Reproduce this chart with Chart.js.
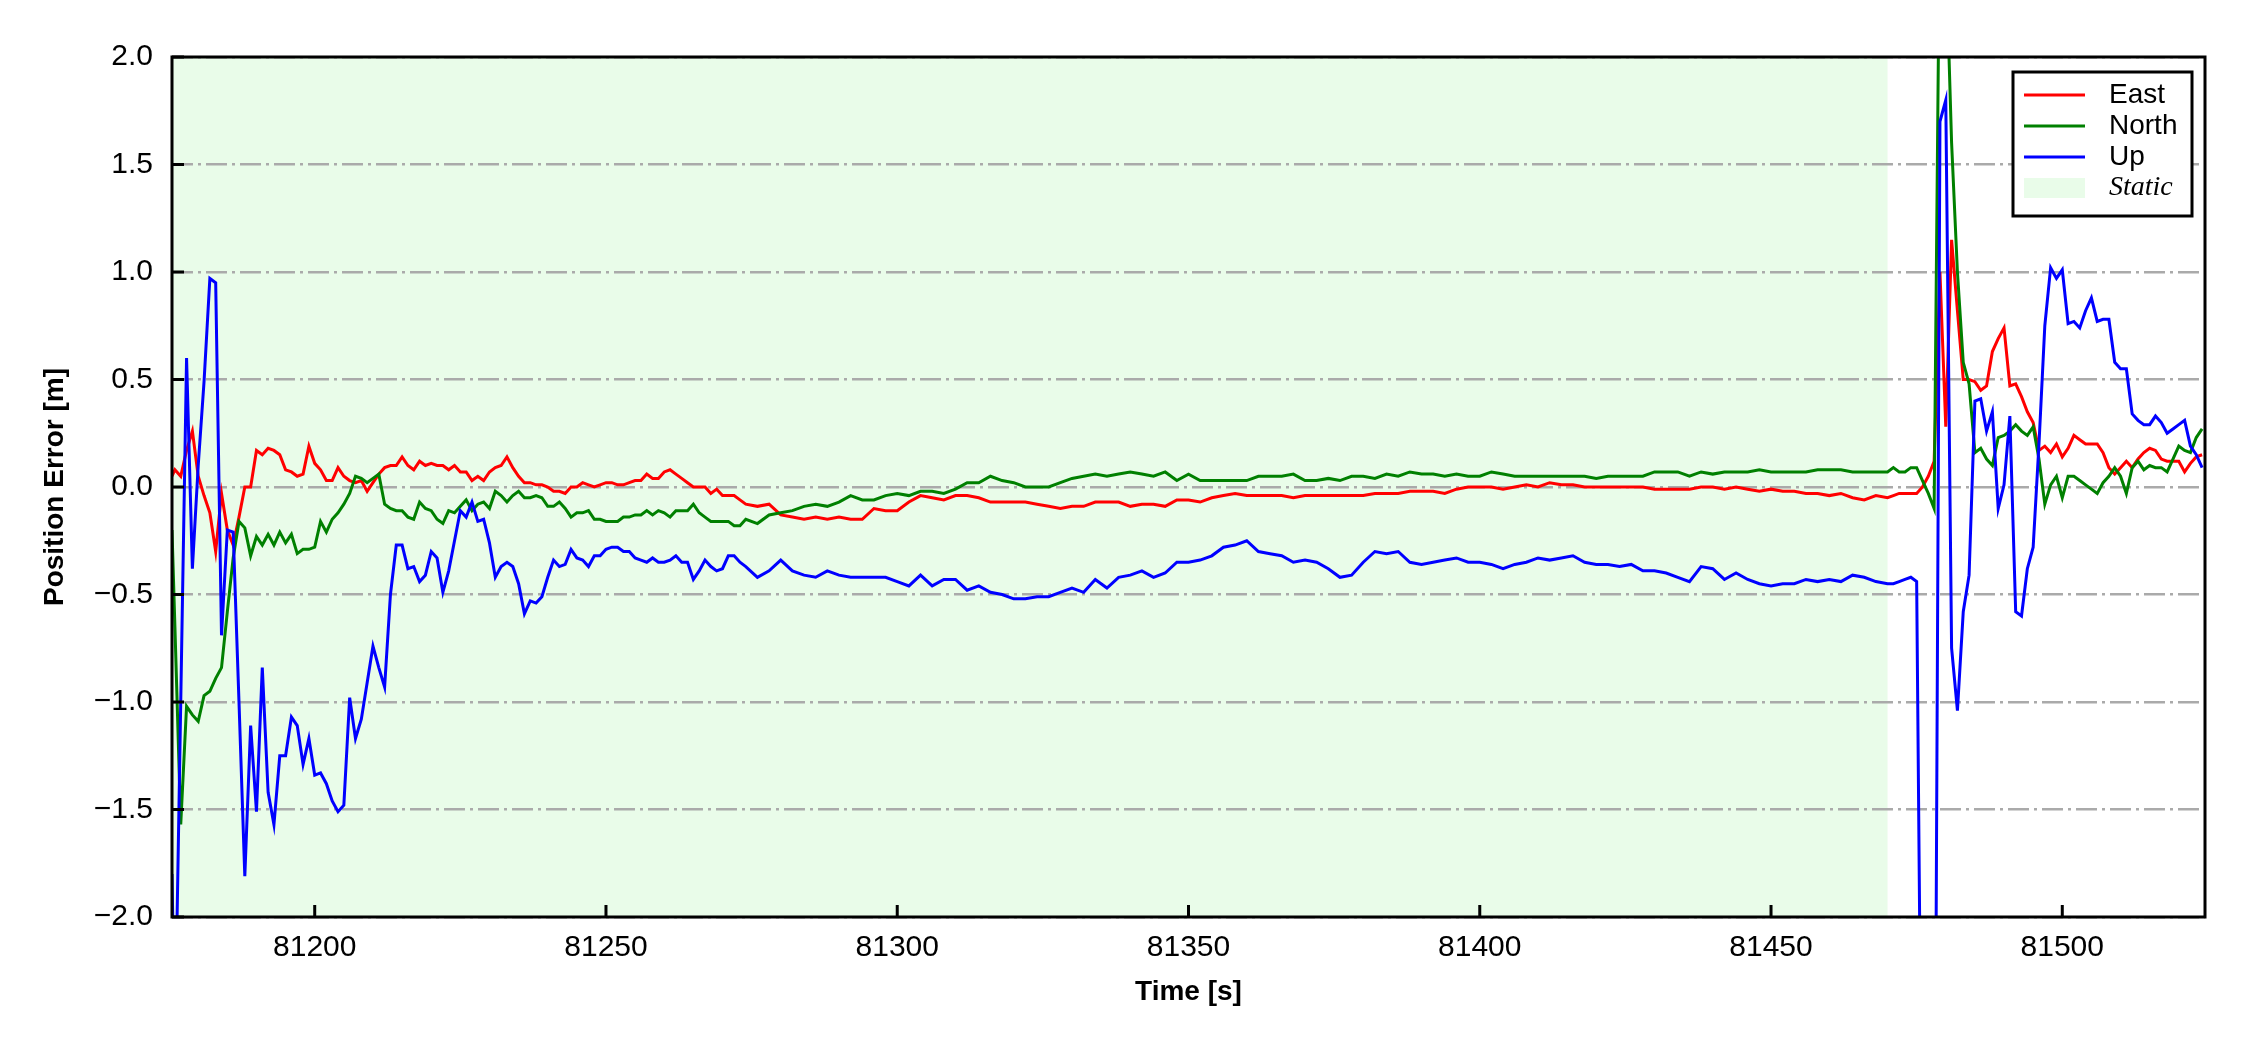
<!DOCTYPE html>
<html>
<head>
<meta charset="utf-8">
<script src="https://cdn.jsdelivr.net/npm/chart.js@4.4.1/dist/chart.umd.min.js"></script>
<style>
  html, body { margin: 0; padding: 0; background: #fff; }
  #wrap { width: 2250px; height: 1050px; }
</style>
</head>
<body>
<div id="wrap"><canvas id="errChart" width="2250" height="1050"></canvas></div>
<script>
// time stamps [s]: 1 s steps at the start and the end, 2 s steps in the quiet middle part
const times = [
  81175.5, 81176, 81177, 81178, 81179, 81180, 81181, 81182, 81183, 81184,
  81185, 81186, 81187, 81188, 81189, 81190, 81191, 81192, 81193, 81194,
  81195, 81196, 81197, 81198, 81199, 81200, 81201, 81202, 81203, 81204,
  81205, 81206, 81207, 81208, 81209, 81210, 81211, 81212, 81213, 81214,
  81215, 81216, 81217, 81218, 81219, 81220, 81221, 81222, 81223, 81224,
  81225, 81226, 81227, 81228, 81229, 81230, 81231, 81232, 81233, 81234,
  81235, 81236, 81237, 81238, 81239, 81240, 81241, 81242, 81243, 81244,
  81245, 81246, 81247, 81248, 81249, 81250, 81251, 81252, 81253, 81254,
  81255, 81256, 81257, 81258, 81259, 81260, 81261, 81262, 81263, 81264,
  81265, 81266, 81267, 81268, 81269, 81270, 81271, 81272, 81273, 81274,
  81276, 81278, 81280, 81282, 81284, 81286, 81288, 81290, 81292, 81294,
  81296, 81298, 81300, 81302, 81304, 81306, 81308, 81310, 81312, 81314,
  81316, 81318, 81320, 81322, 81324, 81326, 81328, 81330, 81332, 81334,
  81336, 81338, 81340, 81342, 81344, 81346, 81348, 81350, 81352, 81354,
  81356, 81358, 81360, 81362, 81364, 81366, 81368, 81370, 81372, 81374,
  81376, 81378, 81380, 81382, 81384, 81386, 81388, 81390, 81392, 81394,
  81396, 81398, 81400, 81402, 81404, 81406, 81408, 81410, 81412, 81414,
  81416, 81418, 81420, 81422, 81424, 81426, 81428, 81430, 81432, 81434,
  81436, 81438, 81440, 81442, 81444, 81446, 81448, 81450, 81452, 81454,
  81456, 81458, 81460, 81462, 81464, 81466, 81468, 81470,
  81471, 81472, 81473, 81474, 81475, 81476, 81477, 81478, 81479, 81480,
  81481, 81482, 81483, 81484, 81485, 81486, 81487, 81488, 81489, 81490,
  81491, 81492, 81493, 81494, 81495, 81496, 81497, 81498, 81499, 81500,
  81501, 81502, 81503, 81504, 81505, 81506, 81507, 81508, 81509, 81510,
  81511, 81512, 81513, 81514, 81515, 81516, 81517, 81518, 81519, 81520,
  81521, 81522, 81523, 81524
];

const east = [
  0.05, 0.08, 0.05, 0.17, 0.26, 0.05, -0.04, -0.12, -0.30, -0.03,
  -0.20, -0.27, -0.14, 0.00, 0.00, 0.17, 0.15, 0.18, 0.17, 0.15,
  0.08, 0.07, 0.05, 0.06, 0.19, 0.11, 0.08, 0.03, 0.03, 0.09,
  0.05, 0.03, 0.02, 0.03, -0.02, 0.02, 0.06, 0.09, 0.10, 0.10,
  0.14, 0.10, 0.08, 0.12, 0.10, 0.11, 0.10, 0.10, 0.08, 0.10,
  0.07, 0.07, 0.03, 0.05, 0.03, 0.07, 0.09, 0.10, 0.14, 0.09,
  0.05, 0.02, 0.02, 0.01, 0.01, 0.00, -0.02, -0.02, -0.03, 0.00,
  0.00, 0.02, 0.01, 0.00, 0.01, 0.02, 0.02, 0.01, 0.01, 0.02,
  0.03, 0.03, 0.06, 0.04, 0.04, 0.07, 0.08, 0.06, 0.04, 0.02,
  0.00, 0.00, 0.00, -0.03, -0.01, -0.04, -0.04, -0.04, -0.06, -0.08,
  -0.09, -0.08, -0.13, -0.14, -0.15, -0.14, -0.15, -0.14, -0.15, -0.15,
  -0.10, -0.11, -0.11, -0.07, -0.04, -0.05, -0.06, -0.04, -0.04, -0.05,
  -0.07, -0.07, -0.07, -0.07, -0.08, -0.09, -0.10, -0.09, -0.09, -0.07,
  -0.07, -0.07, -0.09, -0.08, -0.08, -0.09, -0.06, -0.06, -0.07, -0.05,
  -0.04, -0.03, -0.04, -0.04, -0.04, -0.04, -0.05, -0.04, -0.04, -0.04,
  -0.04, -0.04, -0.04, -0.03, -0.03, -0.03, -0.02, -0.02, -0.02, -0.03,
  -0.01, 0.00, 0.00, 0.00, -0.01, 0.00, 0.01, 0.00, 0.02, 0.01,
  0.01, 0.00, 0.00, 0.00, 0.00, 0.00, 0.00, -0.01, -0.01, -0.01,
  -0.01, 0.00, 0.00, -0.01, 0.00, -0.01, -0.02, -0.01, -0.02, -0.02,
  -0.03, -0.03, -0.04, -0.03, -0.05, -0.06, -0.04, -0.05,
  -0.04, -0.03, -0.03, -0.03, -0.03, 0.00, 0.05, 0.12, 1.00, 0.28,
  1.15, 0.82, 0.50, 0.50, 0.49, 0.45, 0.47, 0.63, 0.69, 0.74,
  0.47, 0.48, 0.42, 0.35, 0.30, 0.17, 0.19, 0.16, 0.20, 0.14,
  0.18, 0.24, 0.22, 0.20, 0.20, 0.20, 0.16, 0.09, 0.06, 0.09,
  0.12, 0.09, 0.13, 0.16, 0.18, 0.17, 0.13, 0.12, 0.12, 0.12,
  0.07, 0.11, 0.14, 0.15
];

const north = [
  -0.20, -0.65, -1.57, -1.02, -1.06, -1.09, -0.97, -0.95, -0.89, -0.84,
  -0.58, -0.33, -0.16, -0.19, -0.32, -0.23, -0.27, -0.22, -0.27, -0.21,
  -0.26, -0.22, -0.31, -0.29, -0.29, -0.28, -0.16, -0.21, -0.15, -0.12,
  -0.08, -0.03, 0.05, 0.04, 0.02, 0.04, 0.06, -0.08, -0.10, -0.11,
  -0.11, -0.14, -0.15, -0.07, -0.10, -0.11, -0.15, -0.17, -0.11, -0.12,
  -0.09, -0.06, -0.11, -0.08, -0.07, -0.10, -0.02, -0.04, -0.07, -0.04,
  -0.02, -0.05, -0.05, -0.04, -0.05, -0.09, -0.09, -0.07, -0.10, -0.14,
  -0.12, -0.12, -0.11, -0.15, -0.15, -0.16, -0.16, -0.16, -0.14, -0.14,
  -0.13, -0.13, -0.11, -0.13, -0.11, -0.12, -0.14, -0.11, -0.11, -0.11,
  -0.08, -0.12, -0.14, -0.16, -0.16, -0.16, -0.16, -0.18, -0.18, -0.15,
  -0.17, -0.13, -0.12, -0.11, -0.09, -0.08, -0.09, -0.07, -0.04, -0.06,
  -0.06, -0.04, -0.03, -0.04, -0.02, -0.02, -0.03, -0.01, 0.02, 0.02,
  0.05, 0.03, 0.02, 0.00, 0.00, 0.00, 0.02, 0.04, 0.05, 0.06,
  0.05, 0.06, 0.07, 0.06, 0.05, 0.07, 0.03, 0.06, 0.03, 0.03,
  0.03, 0.03, 0.03, 0.05, 0.05, 0.05, 0.06, 0.03, 0.03, 0.04,
  0.03, 0.05, 0.05, 0.04, 0.06, 0.05, 0.07, 0.06, 0.06, 0.05,
  0.06, 0.05, 0.05, 0.07, 0.06, 0.05, 0.05, 0.05, 0.05, 0.05,
  0.05, 0.05, 0.04, 0.05, 0.05, 0.05, 0.05, 0.07, 0.07, 0.07,
  0.05, 0.07, 0.06, 0.07, 0.07, 0.07, 0.08, 0.07, 0.07, 0.07,
  0.07, 0.08, 0.08, 0.08, 0.07, 0.07, 0.07, 0.07,
  0.09, 0.07, 0.07, 0.09, 0.09, 0.03, -0.03, -0.10, 2.80, 2.50,
  1.60, 1.00, 0.58, 0.48, 0.16, 0.18, 0.13, 0.10, 0.23, 0.24,
  0.26, 0.29, 0.26, 0.24, 0.28, 0.13, -0.08, 0.01, 0.05, -0.05,
  0.05, 0.05, 0.03, 0.01, -0.01, -0.03, 0.02, 0.05, 0.09, 0.05,
  -0.03, 0.09, 0.12, 0.08, 0.10, 0.09, 0.09, 0.07, 0.13, 0.19,
  0.17, 0.16, 0.23, 0.27
];

const up = [
  -1.80, -2.60, -1.00, 0.60, -0.38, 0.10, 0.49, 0.97, 0.95, -0.69,
  -0.20, -0.21, -1.00, -1.81, -1.11, -1.51, -0.84, -1.42, -1.57, -1.25,
  -1.25, -1.07, -1.11, -1.29, -1.17, -1.34, -1.33, -1.38, -1.46, -1.51,
  -1.48, -0.98, -1.17, -1.08, -0.91, -0.74, -0.84, -0.93, -0.50, -0.27,
  -0.27, -0.38, -0.37, -0.44, -0.41, -0.30, -0.33, -0.49, -0.39, -0.25,
  -0.11, -0.14, -0.07, -0.16, -0.15, -0.26, -0.42, -0.37, -0.35, -0.37,
  -0.45, -0.59, -0.53, -0.54, -0.51, -0.42, -0.34, -0.37, -0.36, -0.29,
  -0.33, -0.34, -0.37, -0.32, -0.32, -0.29, -0.28, -0.28, -0.30, -0.30,
  -0.33, -0.34, -0.35, -0.33, -0.35, -0.35, -0.34, -0.32, -0.35, -0.35,
  -0.43, -0.39, -0.34, -0.37, -0.39, -0.38, -0.32, -0.32, -0.35, -0.37,
  -0.42, -0.39, -0.34, -0.39, -0.41, -0.42, -0.39, -0.41, -0.42, -0.42,
  -0.42, -0.42, -0.44, -0.46, -0.41, -0.46, -0.43, -0.43, -0.48, -0.46,
  -0.49, -0.50, -0.52, -0.52, -0.51, -0.51, -0.49, -0.47, -0.49, -0.43,
  -0.47, -0.42, -0.41, -0.39, -0.42, -0.40, -0.35, -0.35, -0.34, -0.32,
  -0.28, -0.27, -0.25, -0.30, -0.31, -0.32, -0.35, -0.34, -0.35, -0.38,
  -0.42, -0.41, -0.35, -0.30, -0.31, -0.30, -0.35, -0.36, -0.35, -0.34,
  -0.33, -0.35, -0.35, -0.36, -0.38, -0.36, -0.35, -0.33, -0.34, -0.33,
  -0.32, -0.35, -0.36, -0.36, -0.37, -0.36, -0.39, -0.39, -0.40, -0.42,
  -0.44, -0.37, -0.38, -0.43, -0.40, -0.43, -0.45, -0.46, -0.45, -0.45,
  -0.43, -0.44, -0.43, -0.44, -0.41, -0.42, -0.44, -0.45,
  -0.45, -0.44, -0.43, -0.42, -0.44, -3.50, -2.80, -4.00, 1.70, 1.80,
  -0.75, -1.04, -0.58, -0.41, 0.40, 0.41, 0.26, 0.35, -0.10, 0.01,
  0.33, -0.58, -0.60, -0.38, -0.28, 0.20, 0.75, 1.02, 0.97, 1.01,
  0.76, 0.77, 0.74, 0.82, 0.88, 0.77, 0.78, 0.78, 0.58, 0.55,
  0.55, 0.34, 0.31, 0.29, 0.29, 0.33, 0.30, 0.25, 0.27, 0.29,
  0.31, 0.19, 0.15, 0.09
];

const seriesNames = ["East", "North", "Up"];
const seriesColors = ["#ff0000", "#008000", "#0000ff"];
const staticWindow = [81175.5, 81470];
const staticColor = "#e9fce9";
const xLimits = [81175.5, 81524.5];
const yLimits = [-2, 2];
const xTickValues = [81200, 81250, 81300, 81350, 81400, 81450, 81500];

const sansFont = "'Liberation Sans', Arial, Helvetica, sans-serif";

function toPoints(vals) {
  return times.map((t, i) => ({ x: t, y: vals[i] }));
}

function fmtY(v) {
  const s = Math.abs(v).toFixed(1);
  return v < 0 ? "\u2212" + s : s;
}

// shaded window under the grid, inward ticks, frame and legend on top
const decor = {
  id: "decor",
  beforeDraw(chart) {
    const { ctx, chartArea: a, scales } = chart;
    ctx.save();
    ctx.fillStyle = "#fff";
    ctx.fillRect(0, 0, chart.width, chart.height);
    const x0 = scales.x.getPixelForValue(staticWindow[0]);
    const x1 = scales.x.getPixelForValue(staticWindow[1]);
    ctx.fillStyle = staticColor;
    ctx.fillRect(x0, a.top, x1 - x0, a.bottom - a.top);
    ctx.restore();
  },
  afterDraw(chart) {
    const { ctx, chartArea: a, scales } = chart;
    ctx.save();
    ctx.strokeStyle = "#000";
    ctx.lineWidth = 3;
    ctx.beginPath();
    scales.x.ticks.forEach(t => {
      const px = scales.x.getPixelForValue(t.value);
      ctx.moveTo(px, a.bottom);
      ctx.lineTo(px, a.bottom - 12);
    });
    scales.y.ticks.forEach(t => {
      const py = scales.y.getPixelForValue(t.value);
      ctx.moveTo(a.left, py);
      ctx.lineTo(a.left + 12, py);
    });
    ctx.stroke();
    ctx.strokeRect(a.left, a.top, a.right - a.left, a.bottom - a.top);

    // legend box
    const right = a.right - 13, top = a.top + 15;
    const left = right - 179, bottom = top + 144;
    ctx.fillStyle = "#fff";
    ctx.fillRect(left, top, right - left, bottom - top);
    ctx.strokeRect(left, top, right - left, bottom - top);
    ctx.textBaseline = "middle";
    ctx.textAlign = "left";
    chart.data.datasets.forEach((ds, i) => {
      const ry = top + 23 + i * 31;
      ctx.strokeStyle = ds.borderColor;
      ctx.lineWidth = 3;
      ctx.beginPath();
      ctx.moveTo(left + 11, ry);
      ctx.lineTo(left + 72, ry);
      ctx.stroke();
      ctx.fillStyle = "#000";
      ctx.font = "28px " + sansFont;
      ctx.fillText(ds.label, left + 96, ry);
    });
    const sy = top + 116;
    ctx.fillStyle = staticColor;
    ctx.fillRect(left + 11, sy - 10, 61, 20);
    ctx.fillStyle = "#000";
    ctx.font = "italic 28px 'Liberation Serif', 'Times New Roman', serif";
    ctx.fillText("Static", left + 96, sy);
    ctx.restore();
  }
};

const ctx = document.getElementById("errChart").getContext("2d");

new Chart(ctx, {
  type: "line",
  data: {
    datasets: [east, north, up].map((vals, i) => ({
      label: seriesNames[i],
      data: toPoints(vals),
      borderColor: seriesColors[i],
      borderWidth: 3,
      pointRadius: 0,
      tension: 0,
      fill: false,
      order: 3 - i
    }))
  },
  options: {
    responsive: false,
    animation: false,
    events: [],
    layout: { padding: { top: 57, right: 45, bottom: 0, left: 0 } },
    plugins: {
      legend: { display: false },
      tooltip: { enabled: false }
    },
    scales: {
      x: {
        type: "linear",
        min: xLimits[0],
        max: xLimits[1],
        afterBuildTicks: s => { s.ticks = xTickValues.map(v => ({ value: v })); },
        afterFit: s => { s.height = 133; },
        grid: { display: false },
        border: { display: false },
        ticks: {
          autoSkip: false,
          maxRotation: 0,
          padding: 5,
          color: "#000",
          font: { family: sansFont, size: 30 },
          callback: v => String(v)
        },
        title: {
          display: true,
          text: "Time [s]",
          color: "#000",
          font: { family: sansFont, size: 28, weight: "bold" },
          padding: { top: 0, bottom: 41 }
        }
      },
      y: {
        min: yLimits[0],
        max: yLimits[1],
        afterFit: s => { s.width = 172; },
        grid: {
          color: "#aaaaaa",
          lineWidth: 2.5,
          drawTicks: false
        },
        border: { display: false, dash: [21, 5, 3, 5] },
        ticks: {
          stepSize: 0.5,
          padding: 19,
          color: "#000",
          font: { family: sansFont, size: 30 },
          callback: v => fmtY(v)
        },
        title: {
          display: true,
          text: "Position Error [m]",
          color: "#000",
          font: { family: sansFont, size: 28, weight: "bold" },
          padding: { top: 38, bottom: 0 }
        }
      }
    }
  },
  plugins: [decor]
});
</script>
</body>
</html>
